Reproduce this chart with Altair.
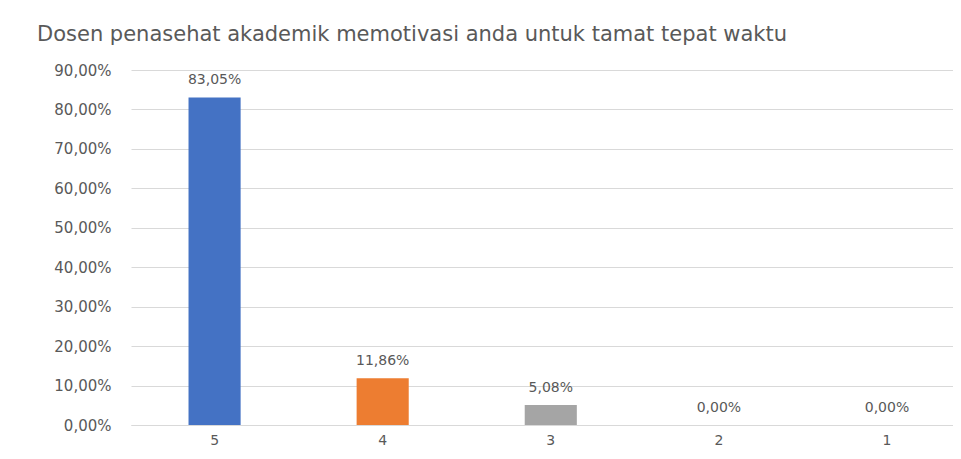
import altair as alt
import pandas as pd

categories = ["5", "4", "3", "2", "1"]
values = [0.8305, 0.1186, 0.0508, 0.0, 0.0]
colors = ["#4472C4", "#ED7D31", "#A5A5A5", "#FFC000", "#5B9BD5"]
y_ticks = [0.0, 0.1, 0.2, 0.3, 0.4, 0.5, 0.6, 0.7, 0.8, 0.9]
title_text = "Dosen penasehat akademik memotivasi anda untuk tamat tepat waktu"

df = pd.DataFrame({"cat": categories, "val": values})
df["label"] = [f"{v*100:.2f}%".replace(".", ",") for v in values]

FONT = "DejaVu Sans"
GRAY = "#595959"

x = alt.X("cat:N", sort=categories, title=None,
          scale=alt.Scale(paddingInner=0.69, paddingOuter=0.29, align=0.59),
          axis=alt.Axis(labelAngle=0, ticks=False, domain=True, domainColor="#d9d9d9",
                        labelColor=GRAY, labelFont=FONT, labelFontSize=14, labelPadding=8))
y = alt.Y("val:Q", title=None,
          scale=alt.Scale(domain=[0, 0.9], nice=False),
          axis=alt.Axis(values=y_ticks, ticks=False, domain=False, labelOverlap=False,
                        gridColor="#d9d9d9", labelColor=GRAY, labelFont=FONT, labelFontSize=15,
                        labelPadding=20,
                        labelExpr="replace(format(datum.value, '.2%'), '.', ',')"))

base = alt.Chart(df).encode(x=x, y=y)

bars = base.mark_bar().encode(
    color=alt.Color("cat:N", sort=categories,
                    scale=alt.Scale(domain=categories, range=colors), legend=None),
)
labels = base.mark_text(dy=-17, baseline="middle", font=FONT, fontSize=14,
                        color=GRAY).encode(text="label:N")

chart = (bars + labels).properties(
    width=822, height=355,
    autosize=alt.AutoSizeParams(type="none"),
    padding={"left": 123, "top": 62, "right": 0, "bottom": 24},
    title=alt.TitleParams(title_text, anchor="start", frame="group", font=FONT,
                          fontSize=21, fontWeight="normal", color=GRAY, offset=18, dx=-94),
).configure_view(stroke=None)

chart.save("out.html", embed_options={"renderer": "svg", "actions": False})
